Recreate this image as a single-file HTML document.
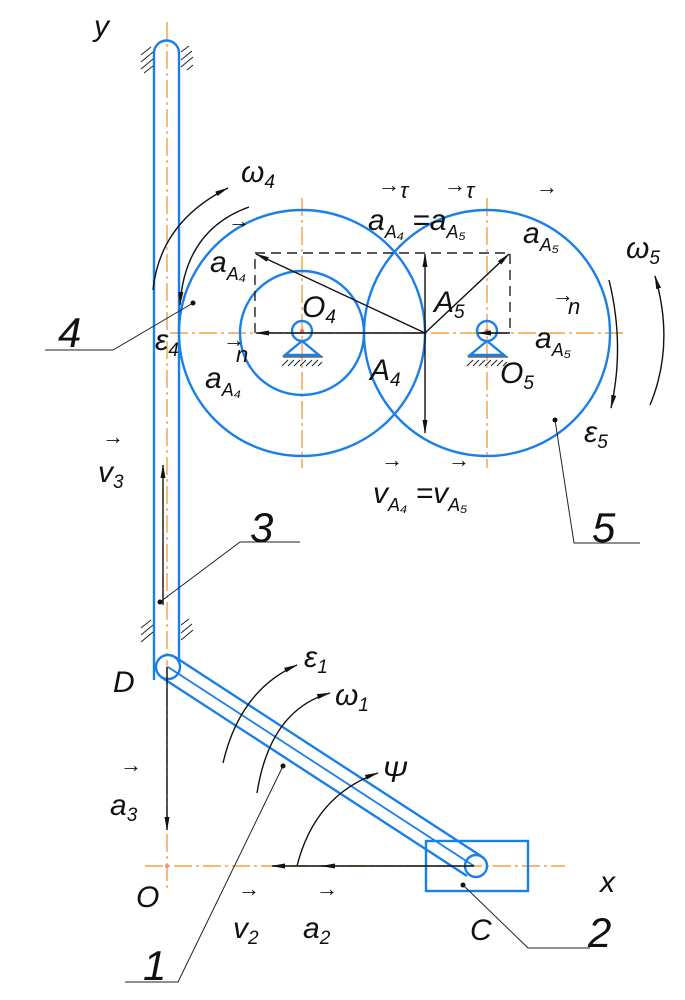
<!DOCTYPE html>
<html><head><meta charset="utf-8"><style>
html,body{margin:0;padding:0;background:#fff}
svg{display:block}
text{font-family:"Liberation Sans",sans-serif;font-style:italic;fill:#111}
</style></head><body>
<svg width="685" height="1000" viewBox="0 0 685 1000" xmlns="http://www.w3.org/2000/svg">
<defs>
<marker id="ah" markerWidth="14" markerHeight="6" refX="13" refY="3" orient="auto" markerUnits="userSpaceOnUse"><path d="M0,0.5 L14,3 L0,5.5 Z" fill="#111"/></marker>
</defs>
<g stroke="#f5a040" stroke-width="1.4" stroke-dasharray="18,4,3,4" fill="none">
<line x1="167" y1="22" x2="167" y2="890"/>
<line x1="145" y1="866" x2="565" y2="866"/>
<line x1="170" y1="333" x2="625" y2="333"/>
<line x1="302" y1="198" x2="302" y2="468"/>
<line x1="487" y1="198" x2="487" y2="468"/>
</g>
<g stroke="#1a7fe6" stroke-width="2.4" fill="none">
<path d="M154,680 L154,53 A12.5,12.5 0 0 1 179,53 L179,660"/>
<circle cx="302" cy="333" r="123"/>
<circle cx="302" cy="333" r="62"/>
<circle cx="487" cy="333" r="123"/>
<circle cx="302" cy="331" r="10"/>
<circle cx="487" cy="331" r="10"/>
<path d="M302,341 L285,355 L319,355 Z M487,341 L470,355 L504,355 Z"/>
<circle cx="168" cy="667" r="12"/>
<line x1="175" y1="657" x2="481" y2="856"/>
<line x1="161" y1="677" x2="467" y2="876"/>
<line x1="168" y1="667" x2="474" y2="866" stroke-width="1.8"/>
<rect x="426" y="841" width="102" height="50"/>
<circle cx="476" cy="866" r="11"/>
</g>
<circle cx="302" cy="331" r="2" fill="#f66"/><circle cx="487" cy="331" r="2" fill="#f66"/><circle cx="167" cy="866" r="2" fill="#f88"/>
<g stroke="#222" stroke-width="1">
<path d="M141,55 l10,-8 M141,62 l12,-10 M141,69 l12,-10 M144,73 l9,-7"/>
<path d="M181,52 l8,-6 M181,60 l11,-9 M181,67 l12,-10 M187,70 l6,-5"/>
<path d="M141,628 l10,-8 M141,635 l12,-10 M141,642 l12,-10"/>
<path d="M181,625 l8,-6 M181,633 l11,-9 M181,640 l12,-10"/>
<path d="M282,366 l6,-6 M288,366 l6,-6 M294,366 l6,-6 M300,366 l6,-6 M306,366 l6,-6 M312,366 l6,-6 M318,366 l4,-4"/>
<path d="M467,366 l6,-6 M473,366 l6,-6 M479,366 l6,-6 M485,366 l6,-6 M491,366 l6,-6 M497,366 l6,-6 M503,366 l4,-4"/>
<line x1="283" y1="357" x2="323" y2="357"/><line x1="468" y1="357" x2="508" y2="357"/>
</g>
<g stroke="#222" stroke-width="1.4" fill="none" stroke-dasharray="10,6">
<path d="M255,333 L255,253 L510,253 L510,333"/>
</g>
<g stroke="#111" stroke-width="1.4" fill="none" marker-end="url(#ah)">
<line x1="425" y1="333" x2="256" y2="333"/>
<line x1="425" y1="333" x2="256" y2="254"/>
<line x1="425" y1="333" x2="509" y2="254"/>
<line x1="425" y1="333" x2="425" y2="254"/>
<line x1="425" y1="333" x2="425" y2="433"/>
<line x1="510" y1="333" x2="478" y2="333"/>
<line x1="163" y1="605" x2="163" y2="465"/>
<line x1="167" y1="667" x2="167" y2="830"/>
<line x1="474" y1="866" x2="322" y2="866"/>
<line x1="330" y1="866" x2="272" y2="866"/>
<path d="M153,290 Q160,222 228,188"/>
<path d="M249,207 Q185,230 180,305"/>
<path d="M609,280 Q625,345 611,408"/>
<path d="M650,405 Q675,345 655,276"/>
<path d="M223,763 Q240,690 297,665"/>
<path d="M257,793 Q270,710 330,693"/>
<path d="M297,866 Q315,795 378,773"/>
</g>
<g stroke="#222" stroke-width="1" fill="none">
<path d="M193,303 L113,350 L45,350"/>
<path d="M160,602 L240,542 L300,542"/>
<path d="M555,420 L574,543 L640,543"/>
<path d="M283,766 L178,982 L125,982"/>
<path d="M463,885 L528,948 L590,948"/>
</g>
<g fill="#111"><circle cx="193" cy="303" r="2.5"/><circle cx="160" cy="602" r="2.5"/><circle cx="555" cy="420" r="2.5"/><circle cx="283" cy="766" r="2.5"/><circle cx="463" cy="885" r="2.5"/></g>
<g font-size="30">
<text x="94" y="36">y</text>
<text x="241" y="182">ω<tspan font-size="19" dy="6">4</tspan></text>
<text x="626" y="258">ω<tspan font-size="19" dy="6">5</tspan></text>
<text x="155" y="350">ε<tspan font-size="19" dy="6">4</tspan></text>
<text x="584" y="442">ε<tspan font-size="19" dy="6">5</tspan></text>
<text x="304" y="667">ε<tspan font-size="19" dy="6">1</tspan></text>
<text x="335" y="705">ω<tspan font-size="19" dy="6">1</tspan></text>
<text x="382" y="782">Ψ</text>
<text x="113" y="692">D</text>
<text x="136" y="907">O</text>
<text x="470" y="940">C</text>
<text x="600" y="892">x</text>
<text x="302" y="317">O<tspan font-size="19" dy="6">4</tspan></text>
<text x="370" y="380">A<tspan font-size="19" dy="6">4</tspan></text>
<text x="434" y="312">A<tspan font-size="19" dy="6">5</tspan></text>
<text x="500" y="383">O<tspan font-size="19" dy="6">5</tspan></text>
<text x="210" y="272">a<tspan font-size="18" dy="8">A₄</tspan></text>
<text x="205" y="388">a<tspan font-size="18" dy="8">A₄</tspan></text>
<text x="368" y="230">a<tspan font-size="18" dy="8">A₄</tspan><tspan dy="-8"> =a</tspan><tspan font-size="18" dy="8">A₅</tspan></text>
<text x="523" y="243">a<tspan font-size="18" dy="8">A₅</tspan></text>
<text x="535" y="348">a<tspan font-size="18" dy="8">A₅</tspan></text>
<text x="373" y="503">v<tspan font-size="18" dy="8">A₄</tspan><tspan dy="-8"> =v</tspan><tspan font-size="18" dy="8">A₅</tspan></text>
<text x="98" y="482">v<tspan font-size="19" dy="6">3</tspan></text>
<text x="110" y="815">a<tspan font-size="19" dy="6">3</tspan></text>
<text x="233" y="938">v<tspan font-size="19" dy="6">2</tspan></text>
<text x="303" y="938">a<tspan font-size="19" dy="6">2</tspan></text>
</g>
<g font-size="22">
<text x="228" y="228">→</text><text x="223" y="347">→</text><text x="552" y="302">→</text>
<text x="378" y="192">→</text><text x="444" y="192">→</text><text x="536" y="194">→</text>
<text x="381" y="467">→</text><text x="448" y="467">→</text>
<text x="102" y="444">→</text><text x="120" y="772">→</text><text x="238" y="896">→</text><text x="316" y="896">→</text>
</g>
<g font-size="22"><text x="400" y="198">τ</text><text x="466" y="198">τ</text><text x="236" y="362">n</text><text x="568" y="314">n</text></g>
<g font-size="42">
<text x="58" y="347">4</text><text x="250" y="542">3</text><text x="592" y="542">5</text>
<text x="143" y="980">1</text><text x="588" y="947">2</text>
</g>
</svg>
</body></html>
